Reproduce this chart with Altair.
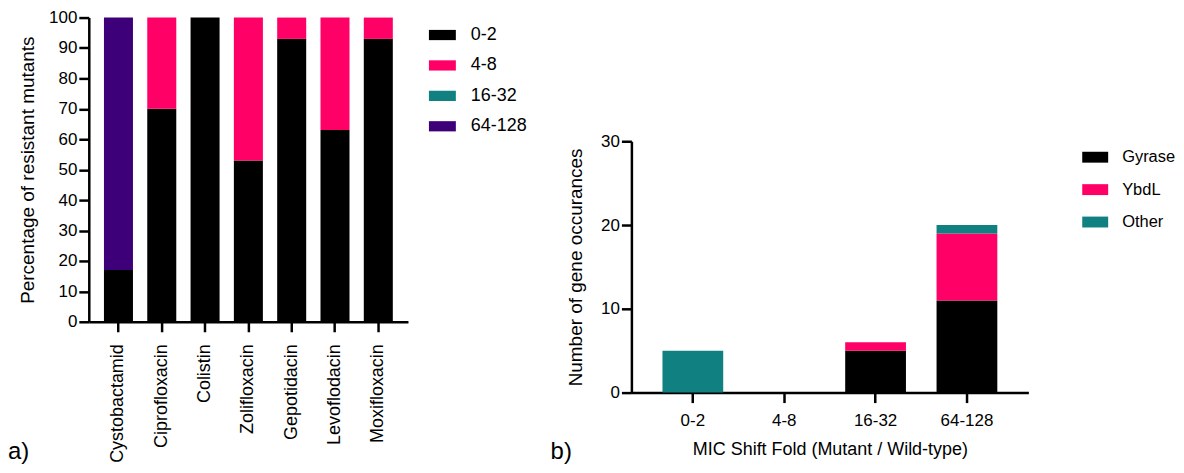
import altair as alt
import pandas as pd

# ---- panel a data ----
drugs = ["Cystobactamid", "Ciprofloxacin", "Colistin", "Zolifloxacin",
         "Gepotidacin", "Levoflodacin", "Moxifloxacin"]
shift_bins = ["0-2", "4-8", "16-32", "64-128"]
pct_0_2 = [17, 70, 100, 53, 93, 63, 93]
pct_4_8 = [0, 30, 0, 47, 7, 37, 7]
pct_16_32 = [0, 0, 0, 0, 0, 0, 0]
pct_64_128 = [83, 0, 0, 0, 0, 0, 0]
bin_colors = ["#000000", "#FF0066", "#108080", "#3E0078"]

# ---- panel b data ----
mic_bins = ["0-2", "4-8", "16-32", "64-128"]
genes = ["Gyrase", "YbdL", "Other"]
gyrase = [0, 0, 5, 11]
ybdl = [0, 0, 1, 8]
other = [5, 0, 0, 1]
gene_colors = ["#000000", "#FF0066", "#108080"]

panel_labels = ["a)", "b)"]

FONT = "Liberation Sans"

rows_a = []
for series, vals in zip(shift_bins, [pct_0_2, pct_4_8, pct_16_32, pct_64_128]):
    for d, v in zip(drugs, vals):
        if v > 0:
            rows_a.append({"drug": d, "bin": series, "pct": v, "idx": shift_bins.index(series)})
df_a = pd.DataFrame(rows_a)

rows_b = []
for g, vals in zip(genes, [gyrase, ybdl, other]):
    for m, v in zip(mic_bins, vals):
        if v > 0:
            rows_b.append({"mic": m, "gene": g, "n": v, "idx": genes.index(g)})
df_b = pd.DataFrame(rows_b)

axis_common = dict(domainColor="black", domainWidth=2.5, tickColor="black", tickWidth=2.5,
                   tickSize=10, labelColor="black", titleColor="black", grid=False,
                   labelFont=FONT, titleFont=FONT, titleFontWeight="normal")

left_path = "M-1,-0.38H1V0.38H-1Z"
right_path = "M-1,-0.42H1V0.42H-1Z"

bars_a = alt.Chart(df_a).mark_bar().encode(
    x=alt.X("drug:N", sort=drugs,
            scale=alt.Scale(domain=drugs, paddingInner=0.33, paddingOuter=0.35),
            axis=alt.Axis(title=None, labelAngle=270, labelFontSize=18, labelPadding=12, **axis_common)),
    y=alt.Y("pct:Q", stack="zero", scale=alt.Scale(domain=[0, 100], nice=False),
            axis=alt.Axis(title="Percentage of resistant mutants", values=list(range(0, 101, 10)),
                          labelFontSize=17, titleFontSize=19, labelPadding=2, titlePadding=11,
                          **axis_common)),
    color=alt.Color("bin:N", scale=alt.Scale(domain=shift_bins, range=bin_colors), title=None,
                    legend=alt.Legend(orient="none", legendX=341, legendY=4, symbolType=left_path,
                                      symbolSize=729, symbolStrokeWidth=0, labelFontSize=18,
                                      labelFont=FONT, labelColor="black", labelOffset=15,
                                      rowPadding=7.5, padding=0)),
    order=alt.Order("idx:Q", sort="ascending"),
)

lab_a = alt.Chart(pd.DataFrame({"t": [panel_labels[0]]})).mark_text(
    align="left", baseline="bottom", fontSize=24, font=FONT, color="black"
).encode(text="t:N", x=alt.value(-81), y=alt.value(448))

chart_a = alt.layer(bars_a, lab_a).properties(width=320, height=305)

bars_b = alt.Chart(df_b).mark_bar().encode(
    x=alt.X("mic:N", sort=mic_bins,
            scale=alt.Scale(domain=mic_bins, paddingInner=0.335, paddingOuter=0.34),
            axis=alt.Axis(title="MIC Shift Fold (Mutant / Wild-type)", labelAngle=0, labelFontSize=17,
                          titleFontSize=18, labelPadding=10, titlePadding=12,
                          **axis_common)),
    y=alt.Y("n:Q", stack="zero", scale=alt.Scale(domain=[0, 30], nice=False),
            axis=alt.Axis(title="Number of gene occurances", values=[0, 10, 20, 30],
                          labelFontSize=17, titleFontSize=19, labelPadding=2, titlePadding=15,
                          **axis_common)),
    color=alt.Color("gene:N", scale=alt.Scale(domain=genes, range=gene_colors), title=None,
                    legend=alt.Legend(orient="none", legendX=452, legendY=127, symbolType=right_path,
                                      symbolSize=676, symbolStrokeWidth=0, labelFontSize=16.5,
                                      labelFont=FONT, labelColor="black", labelOffset=14,
                                      rowPadding=10.5, padding=0)),
    order=alt.Order("idx:Q", sort="ascending"),
)

lab_b = alt.Chart(pd.DataFrame({"t": [panel_labels[1]]})).mark_text(
    align="left", baseline="bottom", fontSize=24, font=FONT, color="black"
).encode(text="t:N", x=alt.value(-81), y=alt.value(324))

chart_b = alt.layer(bars_b, lab_b).properties(width=398, height=252)

spacer = alt.Chart(pd.DataFrame({"t": ["."]})).mark_text(
    align="left", baseline="top", fontSize=10, opacity=0
).encode(text="t:N", x=alt.value(0), y=alt.value(0)).properties(width=398, height=115)

right = alt.vconcat(spacer, chart_b, spacing=0)

chart = alt.hconcat(chart_a, right, spacing=23).resolve_scale(color="independent").properties(
    padding=0
).configure(font=FONT).configure_view(strokeWidth=0)

chart.save("out.html", embed_options={"renderer": "svg", "actions": False})
